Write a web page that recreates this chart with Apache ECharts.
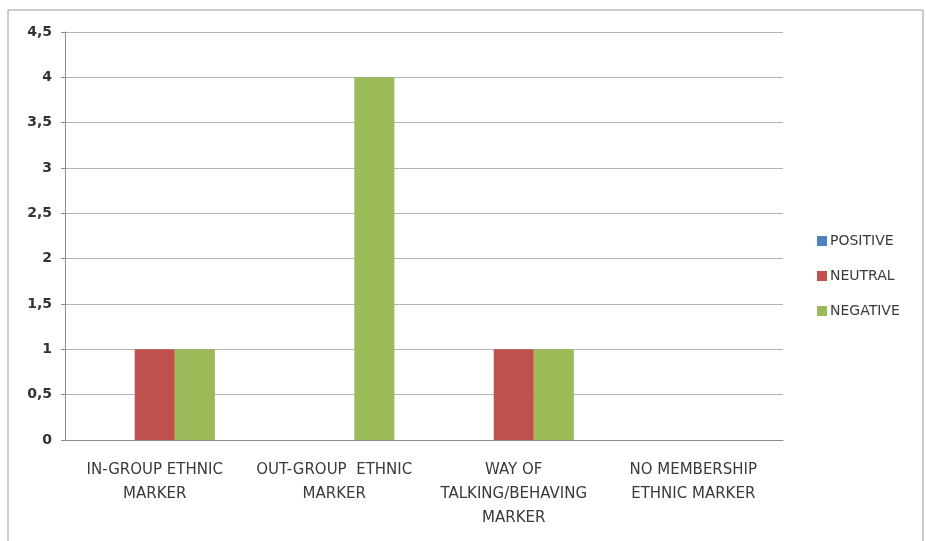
<!DOCTYPE html>
<html><head><meta charset="utf-8">
<script src="https://cdn.jsdelivr.net/npm/echarts@6/dist/echarts.min.js"></script>
<style>html,body{margin:0;padding:0;background:#fff}#c{width:926px;height:541px}</style>
</head><body><div id="c"></div>
<script>
const categories = ["IN-GROUP ETHNIC\nMARKER", "OUT-GROUP  ETHNIC\nMARKER", "WAY OF\nTALKING/BEHAVING\nMARKER", "NO MEMBERSHIP\nETHNIC MARKER"];
const seriesNames = ["POSITIVE", "NEUTRAL", "NEGATIVE"];
const positive = [0, 0, 0, 0];
const neutral = [1, 0, 1, 0];
const negative = [1, 4, 1, 0];
const colors = ["#4F81BD", "#C0504D", "#9BBB59"];

const chart = echarts.init(document.getElementById('c'));
const font = "'DejaVu Sans', sans-serif";
chart.setOption({
  animation: false,
  backgroundColor: '#fff',
  graphic: [{type: 'rect', shape: {x: 8, y: 10, width: 915, height: 540}, style: {fill: 'none', stroke: '#9a9a9a', lineWidth: 1}}],
  grid: {left: 65, right: 143, top: 32, bottom: 101, containLabel: false},
  legend: {
    orient: 'vertical', left: 812, top: 229, itemGap: 21, itemWidth: 10, itemHeight: 10,
    icon: 'rect',
    textStyle: {fontFamily: font, fontSize: 14, color: '#3a3a3a', padding: [0, 0, 0, -2]},
    data: seriesNames
  },
  xAxis: {
    type: 'category', data: categories,
    axisLine: {lineStyle: {color: '#8c8c8c', width: 1}},
    axisTick: {show: false},
    axisLabel: {fontFamily: font, fontSize: 15, color: '#3a3a3a', lineHeight: 24, margin: 18, interval: 0}
  },
  yAxis: {
    type: 'value', min: 0, max: 4.5, interval: 0.5,
    axisLine: {show: true, lineStyle: {color: '#8c8c8c'}},
    axisTick: {show: true, length: 4, lineStyle: {color: '#8c8c8c'}},
    splitLine: {lineStyle: {color: '#b4b4b4', width: 1}},
    axisLabel: {fontFamily: font, fontSize: 14, fontWeight: 'bold', color: '#333', margin: 13,
      formatter: v => String(v).replace('.', ',')}
  },
  series: [
    {name: seriesNames[0], type: 'bar', data: positive, itemStyle: {color: colors[0]}, barGap: '0%', barCategoryGap: '33%'},
    {name: seriesNames[1], type: 'bar', data: neutral, itemStyle: {color: colors[1]}, barGap: '0%', barCategoryGap: '33%'},
    {name: seriesNames[2], type: 'bar', data: negative, itemStyle: {color: colors[2]}, barGap: '0%', barCategoryGap: '33%'}
  ]
});
</script></body></html>
